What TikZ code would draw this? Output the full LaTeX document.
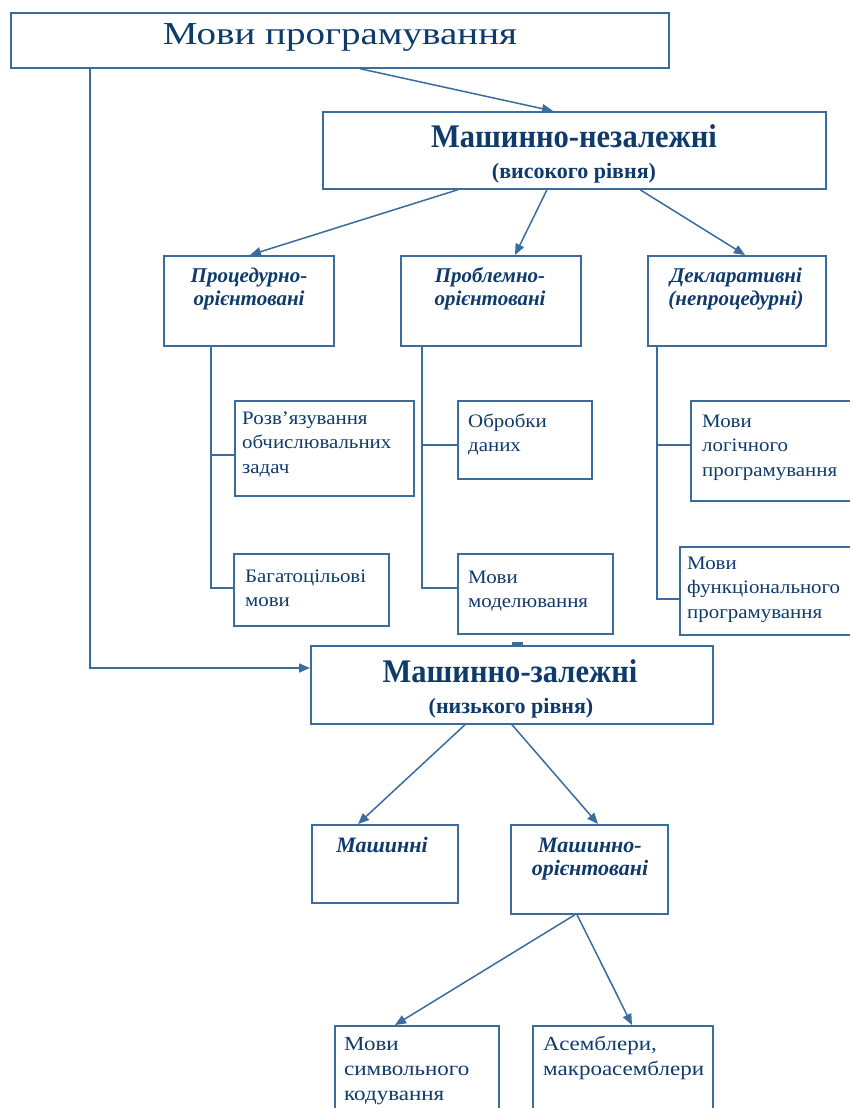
\documentclass[tikz,border=0pt]{standalone}
\usepackage{fontspec}
\setmainfont{Liberation Serif}
\newfontfamily\condfont[FakeStretch=0.925]{Liberation Serif}
\newfontfamily\widefont[FakeStretch=1.22]{Liberation Serif}
\newfontfamily\leaffont[FakeStretch=1.1]{Liberation Serif}
\newfontfamily\bigleaffont[FakeStretch=1.15]{Liberation Serif}
\usetikzlibrary{arrows.meta,calc}
\definecolor{lineblue}{RGB}{58,108,158}
\definecolor{textblue}{RGB}{14,58,108}
\tikzset{
  box/.style={draw=lineblue, line width=1.7pt, inner sep=0pt, anchor=north west},
  conn/.style={draw=lineblue, line width=1.5pt},
  arr/.style={conn, -{Triangle[length=11pt,width=9pt]}},
  lbl/.style={text=textblue, inner sep=0pt, anchor=base},
  leaf/.style={lbl, anchor=base west, align=left, font=\leaffont\fontsize{19}{24.5}\selectfont},
  bleaf/.style={lbl, anchor=base west, align=left, font=\bigleaffont\fontsize{20}{25}\selectfont},
  cat/.style={lbl, align=center, font=\fontsize{21}{23}\selectfont\bfseries\itshape},
  mcat/.style={lbl, align=center, font=\fontsize{22}{23}\selectfont\bfseries\itshape},
}
\begin{document}
\begin{tikzpicture}[x=1pt,y=-1pt]
\clip (0,0) rectangle (850,1108);
\fill[white] (0,0) rectangle (850,1108);
% boxes
\node[box, minimum width=658, minimum height=55] (top) at (10,12) {};
\node[box, minimum width=503, minimum height=77] (hi) at (322,111) {};
\node[box, minimum width=170, minimum height=90] (proc) at (163,255) {};
\node[box, minimum width=180, minimum height=90] (prob) at (400,255) {};
\node[box, minimum width=178, minimum height=90] (decl) at (647,255) {};
\node[box, minimum width=179, minimum height=95] (l1) at (234,400) {};
\node[box, minimum width=155, minimum height=72] (l2) at (233,553) {};
\node[box, minimum width=134, minimum height=78] (l3) at (457,400) {};
\node[box, minimum width=155, minimum height=80] (l4) at (457,553) {};
\node[box, minimum width=165, minimum height=100] (l5) at (690,400) {};
\node[box, minimum width=175, minimum height=88] (l6) at (679,546) {};
\node[box, minimum width=402, minimum height=78] (lo) at (310,645) {};
\node[box, minimum width=146, minimum height=78] (mach) at (311,824) {};
\node[box, minimum width=157, minimum height=89] (mori) at (510,824) {};
\node[box, minimum width=164, minimum height=95] (sym) at (334,1025) {};
\node[box, minimum width=180, minimum height=95] (asm) at (532,1025) {};
% texts (multi-line nodes are placed by the baseline of their last line)
\node[lbl, font=\widefont\fontsize{32}{36}\selectfont] (toptxt) at (340,45) {Мови програмування};
\node[lbl, font=\condfont\fontsize{33}{36}\selectfont\bfseries] (hitxt) at (574,147) {Машинно-незалежні};
\node[lbl, font=\fontsize{22}{24}\selectfont\bfseries] (hitxt2) at (574,178) {(високого рівня)};
\node[cat] (proctxt) at (249,305) {Процедурно-\\орієнтовані};
\node[cat] (probtxt) at (490,305) {Проблемно-\\орієнтовані};
\node[cat] (decltxt) at (736,305) {Декларативні\\(непроцедурні)};
\node[leaf] (l1t) at (242,473) {Розв’язування\\обчислювальних\\задач};
\node[leaf] (l2t) at (245,606.5) {Багатоцільові\\мови};
\node[leaf] (l3t) at (468,451.5) {Обробки\\даних};
\node[leaf] (l4t) at (468,607.5) {Мови\\моделювання};
\node[leaf] (l5t) at (702,476) {Мови\\логічного\\програмування};
\node[leaf] (l6t) at (687,618) {Мови\\функціонального\\програмування};
\node[lbl, font=\condfont\fontsize{33}{36}\selectfont\bfseries] (lotxt) at (510,682) {Машинно-залежні};
\node[lbl, font=\fontsize{22}{24}\selectfont\bfseries] (lotxt2) at (511,713) {(низького рівня)};
\node[mcat] (machtxt) at (382,852) {Машинні};
\node[mcat] (moritxt) at (590,875) {Машинно-\\орієнтовані};
\node[bleaf] (symt) at (344,1100) {Мови\\символьного\\кодування};
\node[bleaf] (asmt) at (543,1075) {Асемблери,\\макроасемблери};
% connectors
\draw[arr] ($(top.south west)+(350,0)$) -- ($(hi.north west)+(231,0)$);
\draw[arr] ($(top.south west)+(80,0)$) |- ($(lo.north west)+(0,23)$);
\draw[arr] ($(hi.south west)+(136,0)$) -- ($(proc.north west)+(87,0)$);
\draw[arr] ($(hi.south west)+(225,0)$) -- ($(prob.north west)+(115,0)$);
\draw[arr] ($(hi.south west)+(318,0)$) -- ($(decl.north west)+(98,0)$);
\draw[conn] ($(proc.south west)+(48,0)$) |- ($(l1.north west)+(0,55)$);
\draw[conn] ($(proc.south west)+(48,0)$) |- ($(l2.north west)+(0,35)$);
\draw[conn] ($(prob.south west)+(22,0)$) |- ($(l3.north west)+(0,45)$);
\draw[conn] ($(prob.south west)+(22,0)$) |- ($(l4.north west)+(0,35)$);
\draw[conn] ($(decl.south west)+(10,0)$) |- ($(l5.north west)+(0,45)$);
\draw[conn] ($(decl.south west)+(10,0)$) |- ($(l6.north west)+(0,53)$);
\draw[conn, line width=2.5pt] ($(lo.north west)+(202,-1.5)$) -- ($(lo.north west)+(213,-1.5)$);
\draw[arr] ($(lo.south west)+(155,0)$) -- ($(mach.north west)+(47,0)$);
\draw[arr] ($(lo.south west)+(202,0)$) -- ($(mori.north west)+(88,0)$);
\draw[arr] ($(mori.south west)+(65,0)$) -- ($(sym.north west)+(61,0)$);
\draw[arr] ($(mori.south west)+(67,0)$) -- ($(asm.north west)+(100,0)$);
\end{tikzpicture}
\end{document}
